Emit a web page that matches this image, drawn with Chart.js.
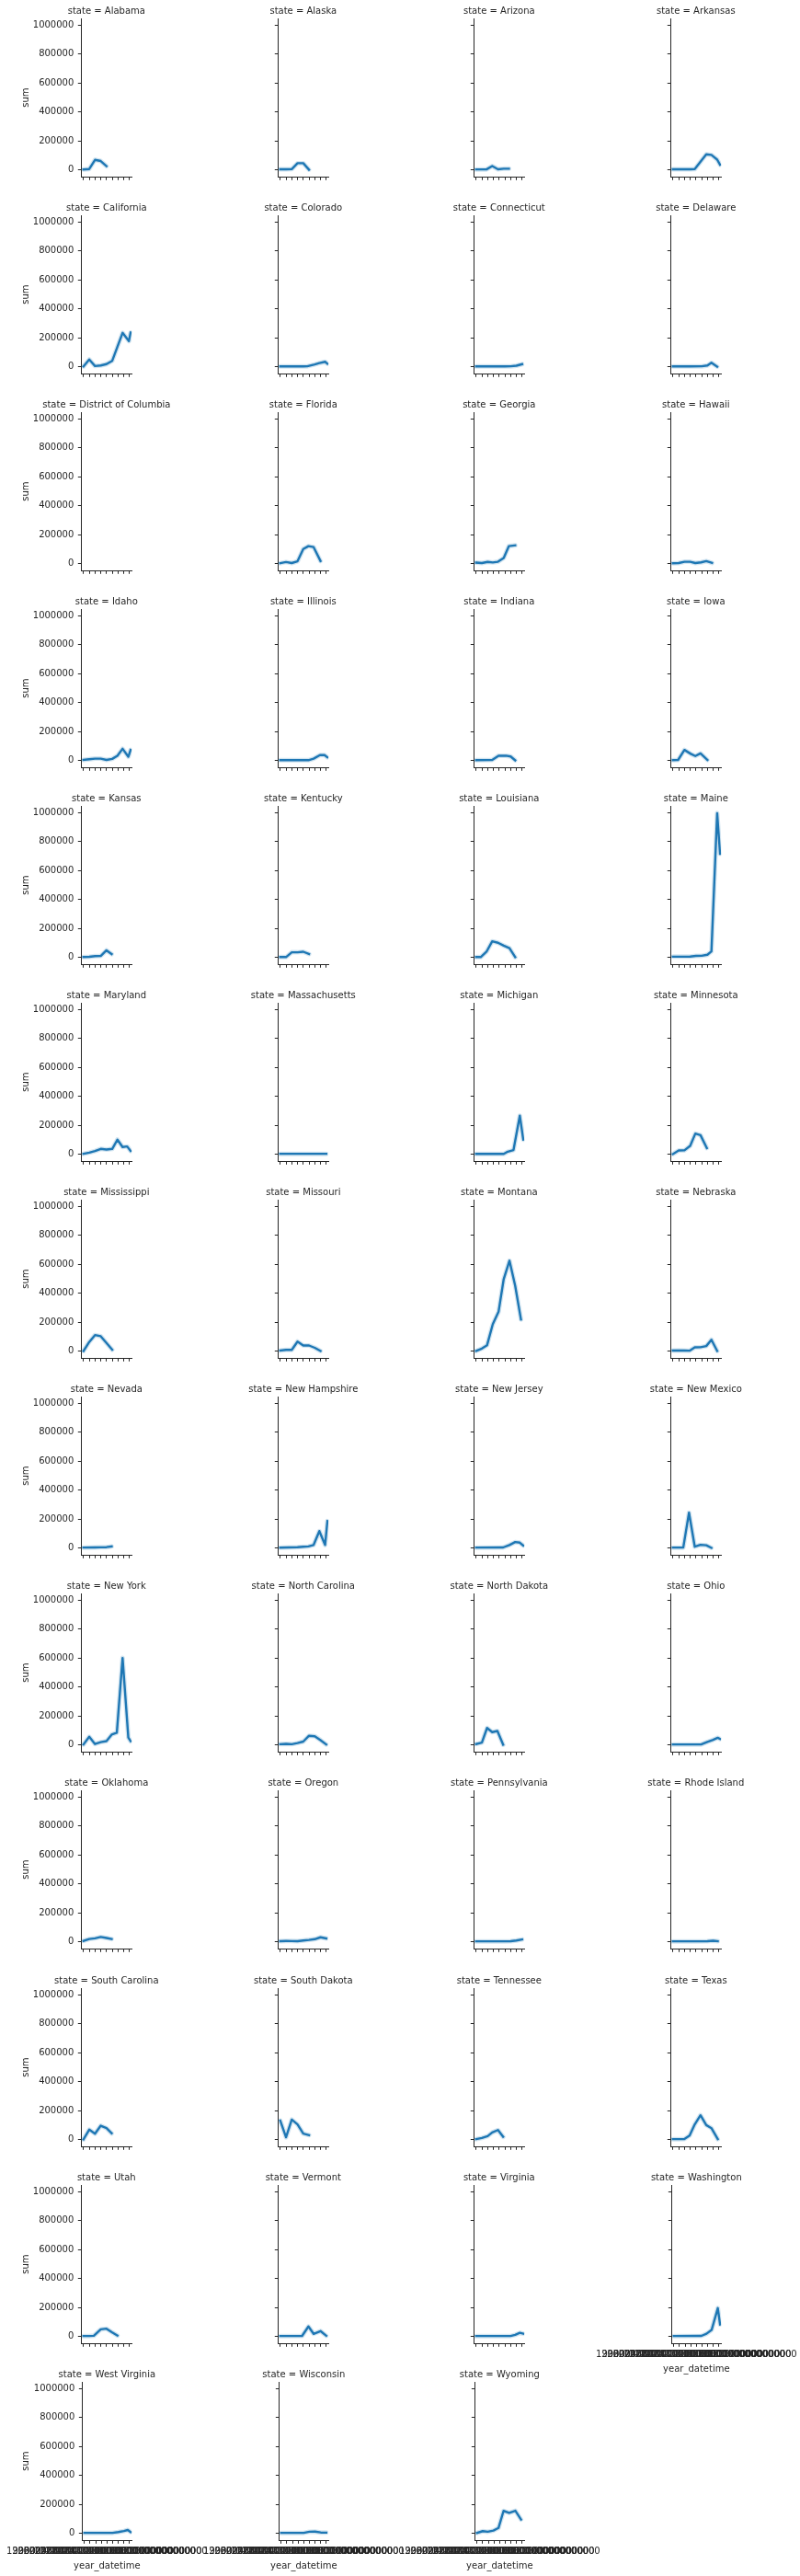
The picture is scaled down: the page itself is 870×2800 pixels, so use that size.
<!DOCTYPE html>
<html>
<head>
<meta charset="utf-8">
<script src="https://cdn.jsdelivr.net/npm/chart.js@4.4.1/dist/chart.umd.min.js"></script>
<style>
html,body{margin:0;padding:0;background:#fff;overflow:hidden;}
#fig{position:relative;width:870px;height:2800px;background:#fff;overflow:hidden;}
#fig canvas{position:absolute;}
</style>
</head>
<body>
<div id="fig"></div>
<script>
// ---------- data ----------
const states = ["Alabama","Alaska","Arizona","Arkansas","California","Colorado","Connecticut","Delaware",
  "District of Columbia","Florida","Georgia","Hawaii","Idaho","Illinois","Indiana","Iowa",
  "Kansas","Kentucky","Louisiana","Maine","Maryland","Massachusetts","Michigan","Minnesota",
  "Mississippi","Missouri","Montana","Nebraska","Nevada","New Hampshire","New Jersey","New Mexico",
  "New York","North Carolina","North Dakota","Ohio","Oklahoma","Oregon","Pennsylvania","Rhode Island",
  "South Carolina","South Dakota","Tennessee","Texas","Utah","Vermont","Virginia","Washington",
  "West Virginia","Wisconsin","Wyoming"];

const tickLabels = ["1998-01-01T00:00:00.000000000","2000-01-01T00:00:00.000000000","2002-01-01T00:00:00.000000000",
  "2004-01-01T00:00:00.000000000","2006-01-01T00:00:00.000000000","2008-01-01T00:00:00.000000000",
  "2010-01-01T00:00:00.000000000","2012-01-01T00:00:00.000000000","2014-01-01T00:00:00.000000000"];
const yTickValues = [0, 200000, 400000, 600000, 800000, 1000000];

// [period index on the year_datetime axis, sum]
const sumAlabama = [[0,2000],[1,5000],[2,68000],[3,60000],[4,25000]];
const sumAlaska = [[0,3000],[1,3000],[2,4000],[3,45000],[4,45000],[5,0]];
const sumArizona = [[0,2000],[1.8,2000],[2.8,25000],[3.8,3000],[4.8,7000],[5.7,7000]];
const sumArkansas = [[0,3000],[1,3000],[2,3000],[3,3000],[3.8,4000],[5.8,106000],[6.7,102000],[7.7,70000],[8.2,34000]];
const sumCalifornia = [[0,1000],[1,49000],[2,4000],[3,8000],[4,17000],[5,40000],[6.8,233000],[7.9,176000],[8.2,235000]];
const sumColorado = [[0,1000],[2,1000],[4,1000],[4.7,2000],[6,15000],[6.8,24000],[7.8,33000],[8.2,20000]];
const sumConnecticut = [[0,1000],[3,1000],[5,1500],[6,2000],[7,6000],[8,17000]];
const sumDelaware = [[0,1000],[3,1000],[5,2000],[6,8000],[6.7,27000],[7.7,0]];
const sumDistrictOfColumbia = [];
const sumFlorida = [[0,2000],[1,10000],[2,3000],[3,15000],[4,100000],[4.9,120000],[5.8,113000],[7,17000]];
const sumGeorgia = [[0,6000],[1,3000],[2,11000],[2.9,7000],[3.8,12000],[4.8,38000],[5.7,120000],[6.8,125000]];
const sumHawaii = [[0,2000],[1,3000],[2,12000],[3,12000],[3.9,3000],[4.9,8000],[5.8,16000],[6.8,4000]];
const sumIdaho = [[0,3000],[1,8000],[2,12000],[3,12000],[4,3000],[5,10000],[5.9,32000],[6.8,80000],[7.8,25000],[8.2,72000]];
const sumIllinois = [[0,1000],[4.9,1000],[5.8,12000],[6.9,36000],[7.7,36000],[8.2,21000]];
const sumIndiana = [[0,1000],[2.8,3000],[3.9,32000],[5.2,32000],[6,27000],[6.8,0]];
const sumIowa = [[0,1000],[0.9,3000],[2,72000],[3.1,45000],[3.9,30000],[4.8,48000],[6,3000]];
const sumKansas = [[0,2000],[1,3000],[2,8000],[3,9000],[4,48000],[4.9,22000]];
const sumKentucky = [[0,1000],[1,1000],[2,34000],[3,34000],[4,38000],[5,22000]];
const sumLouisiana = [[0,1000],[0.8,1000],[1.8,38000],[2.8,110000],[3.8,100000],[4.8,80000],[5.8,63000],[6.8,0]];
const sumMaine = [[0,4000],[3,5000],[4,9000],[5,10000],[6,17000],[6.7,40000],[7.7,996000],[8.2,715000]];
const sumMaryland = [[0,2000],[1,10000],[2,21000],[3,36000],[4,32000],[5,36000],[5.9,100000],[6.8,49000],[7.6,53000],[8.2,22000]];
const sumMassachusetts = [[0,2000],[1,2000],[2,2000],[3,2000],[4,2000],[5,2000],[6,2000],[7,2000],[8,2000]];
const sumMichigan = [[0,1000],[4.8,1000],[5.5,17000],[6.5,28000],[7.6,265000],[8.2,100000]];
const sumMinnesota = [[0,0],[1,25000],[2,26000],[3,57000],[3.9,142000],[4.8,131000],[5.9,42000]];
const sumMississippi = [[0,0],[1,62000],[2,110000],[3,102000],[4,55000],[5,9000]];
const sumMissouri = [[0,3000],[1,8000],[2,8000],[3,65000],[4,38000],[5,38000],[6,22000],[7,0]];
const sumMontana = [[0,0],[1,17000],[1.9,40000],[2.9,186000],[3.9,271000],[4.8,497000],[5.8,624000],[6.8,450000],[7.8,218000]];
const sumNebraska = [[0,3000],[1,4000],[2,3000],[2.9,2000],[3.8,25000],[4.8,26000],[5.8,34000],[6.7,78000],[7.7,0]];
const sumNevada = [[0,2000],[2,3000],[3,4000],[4,5000],[4.9,10000]];
const sumNewHampshire = [[0,2000],[3,5000],[4,8000],[4.9,10000],[5.8,20000],[6.8,116000],[7.8,20000],[8.2,185000]];
const sumNewJersey = [[0,2000],[4.7,3000],[5.8,20000],[6.8,40000],[7.6,36000],[8.2,16000]];
const sumNewMexico = [[0,2000],[1.8,2000],[2.8,243000],[3.8,8000],[4.8,21000],[5.8,18000],[6.7,0]];
const sumNewYork = [[0,2000],[1,55000],[2,5000],[3,18000],[4,25000],[4.9,70000],[5.8,83000],[6.8,600000],[7.8,50000],[8.2,25000]];
const sumNorthCarolina = [[0,4000],[1,6000],[2,4000],[3,12000],[4,22000],[5,62000],[6,59000],[7,32000],[8,2000]];
const sumNorthDakota = [[0,5000],[1,15000],[1.9,116000],[2.8,87000],[3.7,95000],[4.7,0]];
const sumOhio = [[0,2000],[4.9,2000],[6,20000],[6.9,33000],[7.8,48000],[8.2,40000]];
const sumOklahoma = [[0,5000],[1,18000],[2,23000],[3,32000],[4,25000],[4.9,18000]];
const sumOregon = [[0,3000],[1,5000],[2,4000],[3,3000],[4,8000],[5,12000],[6,17000],[7,30000],[8,22000]];
const sumPennsylvania = [[0,2000],[5,2000],[6,3000],[7,8000],[8,15000]];
const sumRhodeIsland = [[0,2000],[4,2000],[6,3000],[7,6000],[7.8,3000]];
const sumSouthCarolina = [[0,0],[1,68000],[2,40000],[3,95000],[4,78000],[4.9,42000]];
const sumSouthDakota = [[0,130000],[1,15000],[2,137000],[3,104000],[4,40000],[5,30000]];
const sumTennessee = [[0,2000],[1,10000],[2,23000],[2.8,48000],[3.8,65000],[4.7,18000]];
const sumTexas = [[0,2000],[1,2000],[2,3000],[2.9,27000],[3.8,104000],[4.8,167000],[5.8,99000],[6.7,78000],[7.8,2000]];
const sumUtah = [[0,2000],[1,2000],[1.8,4000],[3,48000],[4,53000],[5,27000],[5.9,5000]];
const sumVermont = [[0,2000],[3.8,3000],[4.9,68000],[5.8,17000],[7,36000],[8,4000]];
const sumVirginia = [[0,2000],[6,2000],[6.8,10000],[7.6,24000],[8.2,18000]];
const sumWashington = [[0,2000],[4.9,3000],[5.8,18000],[6.7,44000],[7.8,195000],[8.2,82000]];
const sumWestVirginia = [[0,2000],[5,2000],[6,8000],[7,15000],[7.7,22000],[8.2,8000]];
const sumWisconsin = [[0,2000],[4,2000],[5,10000],[6,11000],[7,5000],[8,4000]];
const sumWyoming = [[0,2000],[1,14000],[1.9,10000],[2.9,18000],[3.8,36000],[4.7,154000],[5.7,140000],[6.8,155000],[7.8,95000]];

const stateSeries = [sumAlabama,sumAlaska,sumArizona,sumArkansas,sumCalifornia,sumColorado,sumConnecticut,sumDelaware,
  sumDistrictOfColumbia,sumFlorida,sumGeorgia,sumHawaii,sumIdaho,sumIllinois,sumIndiana,sumIowa,
  sumKansas,sumKentucky,sumLouisiana,sumMaine,sumMaryland,sumMassachusetts,sumMichigan,sumMinnesota,
  sumMississippi,sumMissouri,sumMontana,sumNebraska,sumNevada,sumNewHampshire,sumNewJersey,sumNewMexico,
  sumNewYork,sumNorthCarolina,sumNorthDakota,sumOhio,sumOklahoma,sumOregon,sumPennsylvania,sumRhodeIsland,
  sumSouthCarolina,sumSouthDakota,sumTennessee,sumTexas,sumUtah,sumVermont,sumVirginia,sumWashington,
  sumWestVirginia,sumWisconsin,sumWyoming];

// ---------- layout / style ----------
const NCOLS = 4, COL_PITCH = 213.5, ROW_PITCH = 214.05;
const CW = 260, CH = 260;
const PLOT_L = 88.3, PLOT_W = 55, PLOT_T = 20, PLOT_H = 172.3, XAXIS_H = 30;
const INK = '#262626', LINE = '#1f77b4', BAND = 'rgba(31,119,180,0.2)';
const FONT = '"DejaVu Sans", sans-serif';
Chart.defaults.font.family = FONT;
Chart.defaults.font.size = 10;
Chart.defaults.color = INK;

const facetText = {
  id: 'facetText',
  afterDraw(chart, args, o) {
    const ctx = chart.ctx, a = chart.chartArea;
    const cx = (a.left + a.right) / 2;
    ctx.save();
    ctx.fillStyle = INK;
    ctx.font = '10px ' + FONT;
    ctx.textAlign = 'center';
    ctx.textBaseline = 'alphabetic';
    ctx.fillText(o.title, cx, a.top - 5);
    if (o.xlabel) ctx.fillText('year_datetime', cx, a.bottom + 31);
    if (o.ylabel) {
      ctx.translate(31, (a.top + a.bottom) / 2);
      ctx.rotate(-Math.PI / 2);
      ctx.fillText('sum', 0, 0);
    }
    ctx.restore();
  }
};

const fig = document.getElementById('fig');
states.forEach((name, i) => {
  const r = Math.floor(i / NCOLS), c = i % NCOLS;
  const bottomOfCol = i + NCOLS >= states.length;
  const leftCol = c === 0;
  const canvas = document.createElement('canvas');
  canvas.width = CW; canvas.height = CH;
  canvas.style.width = CW + 'px'; canvas.style.height = CH + 'px';
  canvas.style.left = (c * COL_PITCH) + 'px';
  canvas.style.top = (r * ROW_PITCH) + 'px';
  fig.appendChild(canvas);
  const pts = stateSeries[i].map(p => ({x: p[0], y: p[1]}));
  new Chart(canvas, {
    type: 'line',
    data: {
      datasets: [
        {data: pts, borderColor: BAND, borderWidth: 5, pointRadius: 0, tension: 0,
         borderJoinStyle: 'round', borderCapStyle: 'round', fill: false},
        {data: pts, borderColor: LINE, borderWidth: 2.4, pointRadius: 0, tension: 0,
         borderJoinStyle: 'round', borderCapStyle: 'square', fill: false}
      ]
    },
    options: {
      responsive: false,
      animation: false,
      events: [],
      layout: {
        autoPadding: false,
        padding: {left: 0, top: PLOT_T, right: CW - PLOT_L - PLOT_W, bottom: CH - PLOT_T - PLOT_H - XAXIS_H}
      },
      plugins: {
        legend: {display: false},
        tooltip: {enabled: false},
        facetText: {title: 'state = ' + name, ylabel: leftCol, xlabel: bottomOfCol}
      },
      scales: {
        x: {
          type: 'linear', min: -0.4, max: 8.4, bounds: 'data',
          afterBuildTicks: s => { s.ticks = tickLabels.map((_, k) => ({value: k})); },
          afterFit: s => { s.height = XAXIS_H; },
          grid: {display: true, drawOnChartArea: false, drawTicks: true, tickLength: 3.5, tickColor: INK, tickWidth: 1},
          border: {display: true, color: INK, width: 1},
          ticks: {display: true, autoSkip: false, maxRotation: 0, minRotation: 0, padding: 3, color: INK,
                  font: {size: 10, family: FONT},
                  callback: (v, k) => bottomOfCol ? tickLabels[k] : ''}
        },
        y: {
          type: 'linear', min: -49800, max: 1045800, bounds: 'data',
          afterBuildTicks: s => { s.ticks = yTickValues.map(v => ({value: v})); },
          afterFit: s => { s.width = PLOT_L; },
          grid: {display: true, drawOnChartArea: false, drawTicks: true, tickLength: 3.5, tickColor: INK, tickWidth: 1},
          border: {display: true, color: INK, width: 1},
          ticks: {display: true, padding: 4.5, color: INK, font: {size: 10, family: FONT},
                  callback: v => leftCol ? String(v) : ''}
        }
      }
    },
    plugins: [facetText]
  });
});
</script>
</body>
</html>
